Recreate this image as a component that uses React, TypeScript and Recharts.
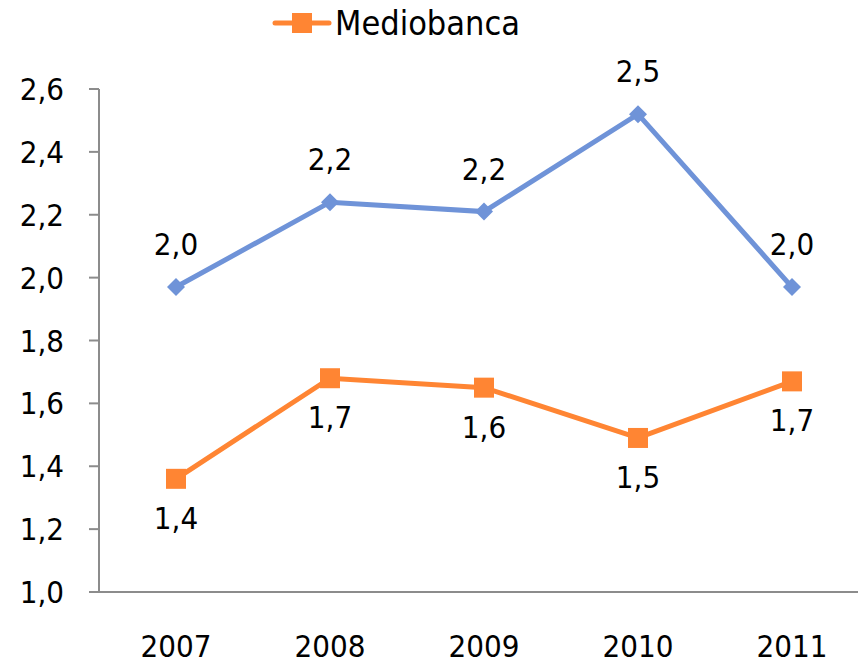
import { LineChart, Line, XAxis, YAxis, Legend, LabelList } from 'recharts';

const years = ['2007', '2008', '2009', '2010', '2011'];
const otherValues = [1.97, 2.24, 2.21, 2.52, 1.97];
const mediobancaValues = [1.36, 1.68, 1.65, 1.49, 1.67];
const yTicks = [1.0, 1.2, 1.4, 1.6, 1.8, 2.0, 2.2, 2.4, 2.6];

const data = years.map((year, i) => ({
  year,
  other: otherValues[i],
  mediobanca: mediobancaValues[i],
}));

const BLUE = '#6f93d8';
const ORANGE = '#ff8533';
const AXIS = '#8c8c8c';
const FONT = '"DejaVu Sans Condensed", "Open Sans", sans-serif';
const FS = 31;

const fmt = (v: any) => Number(v).toFixed(1).replace('.', ',');

const Diamond = (props: any) => {
  const { cx, cy } = props;
  if (cx == null || cy == null) return null;
  const r = 9;
  return (
    <path
      d={`M${cx},${cy - r} L${cx + r},${cy} L${cx},${cy + r} L${cx - r},${cy} Z`}
      fill={BLUE}
    />
  );
};

const Square = (props: any) => {
  const { cx, cy } = props;
  if (cx == null || cy == null) return null;
  return <rect x={cx - 10} y={cy - 10} width={20} height={20} fill={ORANGE} />;
};

const LegendContent = () => (
  <div style={{ display: 'flex', alignItems: 'center', fontFamily: FONT, fontSize: 34, color: '#000', height: 36 }}>
    <svg width={60} height={24} style={{ marginRight: 3 }}>
      <line x1={3} y1={12} x2={57} y2={12} stroke={ORANGE} strokeWidth={5} strokeLinecap="round" />
      <rect x={20} y={2} width={20} height={20} fill={ORANGE} />
    </svg>
    <span>Mediobanca</span>
  </div>
);

export default function App() {
  return (
    <div style={{ position: 'absolute', left: 0, top: 0, width: 858, height: 664, overflow: 'hidden', background: '#fff' }}>
      <LineChart
        width={869}
        height={664}
        data={data}
        margin={{ top: 53, right: 0, left: 0, bottom: 0 }}
      >
        <XAxis
          dataKey="year"
          height={72}
          padding={{ left: 77, right: 77 }}
          axisLine={{ stroke: AXIS, strokeWidth: 2 }}
          tickLine={false}
          tickMargin={37}
          tick={{ fill: '#000', fontSize: FS, fontFamily: FONT }}
        />
        <YAxis
          width={99}
          domain={[1.0, 2.6]}
          ticks={yTicks}
          tickFormatter={fmt}
          interval={0}
          axisLine={{ stroke: AXIS, strokeWidth: 2 }}
          tickLine={{ stroke: AXIS, strokeWidth: 2 }}
          tickSize={10}
          tickMargin={25}
          tick={{ fill: '#000', fontSize: FS, fontFamily: FONT }}
        />
        <Legend
          verticalAlign="top"
          align="left"
          content={<LegendContent />}
          wrapperStyle={{ left: 272, top: 5, width: 'auto' }}
        />
        <Line
          dataKey="other"
          stroke={BLUE}
          strokeWidth={5}
          dot={<Diamond />}
          activeDot={false}
          legendType="none"
          isAnimationActive={false}
        >
          <LabelList
            dataKey="other"
            position="top"
            offset={32}
            formatter={fmt}
            style={{ fill: '#000', fontSize: FS, fontFamily: FONT }}
          />
        </Line>
        <Line
          dataKey="mediobanca"
          name="Mediobanca"
          stroke={ORANGE}
          strokeWidth={5}
          dot={<Square />}
          activeDot={false}
          isAnimationActive={false}
        >
          <LabelList
            dataKey="mediobanca"
            position="bottom"
            offset={28}
            formatter={fmt}
            style={{ fill: '#000', fontSize: FS, fontFamily: FONT }}
          />
        </Line>
      </LineChart>
    </div>
  );
}
